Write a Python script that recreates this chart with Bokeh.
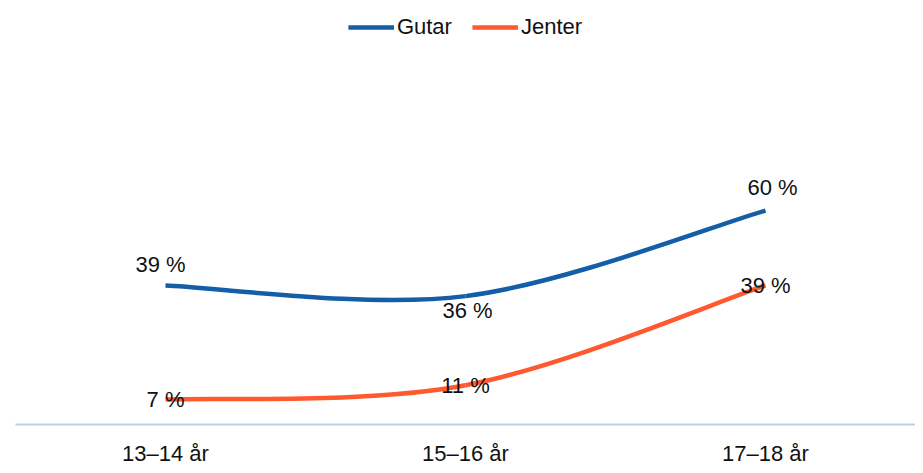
from bokeh.plotting import figure
from bokeh.models import ColumnDataSource, Legend, LegendItem, FixedTicker
from bokeh.core.properties import value
from bokeh.embed import file_html
from bokeh.resources import INLINE

# data
groups = ["13–14 år", "15–16 år", "17–18 år"]
gutar = [39, 36, 60]
jenter = [7, 11, 39]

BLUE = "#135ea6"
ORANGE = "#ff5a2f"
FONT = "Liberation Sans"

xs = list(range(len(groups)))

p = figure(width=915, height=468, output_backend="svg", toolbar_location=None,
           x_range=(-0.5, 2.5), y_range=(0, 118.9),
           min_border_left=15, min_border_right=0, min_border_top=0, min_border_bottom=44)
p.outline_line_color = None
p.grid.visible = False
p.yaxis.visible = False


def smooth(xv, yv):
    # cubic bezier segments (catmull-rom style) through the data points
    px = [xv[0]] + list(xv) + [xv[-1]]
    py = [yv[0]] + list(yv) + [yv[-1]]
    d = dict(x0=[], y0=[], x1=[], y1=[], cx0=[], cy0=[], cx1=[], cy1=[])
    for i in range(1, len(xv)):
        d["x0"].append(px[i])
        d["y0"].append(py[i])
        d["x1"].append(px[i + 1])
        d["y1"].append(py[i + 1])
        d["cx0"].append(px[i] + (px[i + 1] - px[i - 1]) / 6)
        d["cy0"].append(py[i] + (py[i + 1] - py[i - 1]) / 6)
        d["cx1"].append(px[i + 1] - (px[i + 2] - px[i]) / 6)
        d["cy1"].append(py[i + 1] - (py[i + 2] - py[i]) / 6)
    return ColumnDataSource(d)


r_g = p.bezier(x0="x0", y0="y0", x1="x1", y1="y1", cx0="cx0", cy0="cy0",
               cx1="cx1", cy1="cy1", source=smooth(xs, gutar),
               line_color=BLUE, line_width=4.5)
r_j = p.bezier(x0="x0", y0="y0", x1="x1", y1="y1", cx0="cx0", cy0="cy0",
               cx1="cx1", cy1="cy1", source=smooth(xs, jenter),
               line_color=ORANGE, line_width=4.5)

# labels (gutar above/below the line, jenter on the point)
g_labels = ColumnDataSource(dict(x=xs, y=gutar, t=[f"{v} %" for v in gutar],
                                 dx=[-5, 2, 7], dy=[-21, 14, -23]))
p.text(x="x", y="y", text="t", x_offset="dx", y_offset="dy", source=g_labels,
       text_font=value(FONT), text_font_size="22px", text_color="#111111",
       text_align="center", text_baseline="middle")
j_labels = ColumnDataSource(dict(x=xs, y=jenter, t=[f"{v} %" for v in jenter]))
p.text(x="x", y="y", text="t", source=j_labels,
       text_font=value(FONT), text_font_size="22px", text_color="#111111",
       text_align="center", text_baseline="middle")

# x axis
ax = p.xaxis[0]
ax.ticker = FixedTicker(ticks=xs)
ax.major_label_overrides = {i: g for i, g in enumerate(groups)}
ax.major_tick_line_color = None
ax.minor_tick_line_color = None
ax.axis_line_color = "#c3cfe0"
ax.axis_line_width = 2
ax.major_label_text_font = FONT
ax.major_label_text_font_size = "22px"
ax.major_label_text_color = "#111111"
ax.major_label_standoff = 10

legend = Legend(items=[LegendItem(label="Gutar", renderers=[r_g]),
                       LegendItem(label="Jenter", renderers=[r_j])],
                location="top_center", orientation="horizontal",
                label_text_font=FONT, label_text_font_size="22px",
                label_text_color="#111111", glyph_width=46, glyph_height=22,
                label_standoff=3, spacing=20, padding=0, margin=14,
                border_line_color=None, background_fill_alpha=0)
p.add_layout(legend)

open("out.html", "w").write(file_html(p, INLINE))
